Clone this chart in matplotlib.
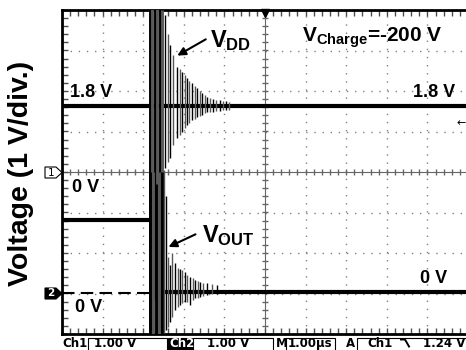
import numpy as np
import matplotlib
matplotlib.use('Agg')
import matplotlib.pyplot as plt
from matplotlib.lines import Line2D
from matplotlib.patches import Rectangle, Polygon

plt.rcParams['font.family'] = ['Liberation Sans', 'DejaVu Sans']
plt.rcParams['mathtext.fontset'] = 'custom'
plt.rcParams['mathtext.rm'] = 'Liberation Sans'
plt.rcParams['mathtext.bf'] = 'Liberation Sans:bold'
plt.rcParams['mathtext.it'] = 'Liberation Sans:italic'

# scope screen: 10 div x 8 div, 1 us/div, 1 V/div -> all values in divisions
t_event = -2.83
vdd_level = 1.62
vout_before = -1.18
vout_after = -2.97
ch2_ground = -2.99
trig_level = 1.21

# ringing: time, upper and lower excursion
vdd_t = [-2.83, -2.78, -2.71, -2.66, -2.59, -2.53, -2.46, -2.40, -2.34, -2.27, -2.17,
         -2.10, -2.04, -1.97, -1.92, -1.86, -1.80, -1.73, -1.67, -1.61, -1.55,
         -1.49, -1.43, -1.36, -1.28, -1.20, -1.11, -1.03, -0.96, -0.88]
vdd_hi = [4.3, 4.3, 4.3, 4.3, 4.3, 4.0, 3.88, 3.40, 3.14, 2.89, 2.59,
          2.55, 2.47, 2.40, 2.32, 2.25, 2.20, 2.12, 2.07, 2.00, 1.95,
          1.90, 1.85, 1.83, 1.80, 1.79, 1.78, 1.76, 1.75, 1.74]
vdd_lo = [-4.3, -4.3, -3.16, -4.3, -4.3, -1.93, 0.10, 0.25, 0.35, 0.67, 0.84,
          0.92, 0.99, 1.08, 1.16, 1.22, 1.28, 1.32, 1.36, 1.39, 1.41,
          1.45, 1.48, 1.48, 1.48, 1.50, 1.51, 1.52, 1.53, 1.54]

vout_t = [-2.83, -2.76, -2.68, -2.61, -2.54, -2.49, -2.44, -2.39, -2.34, -2.29,
          -2.22, -2.14, -2.09, -2.04, -1.98, -1.92, -1.85, -1.78, -1.72, -1.66,
          -1.60, -1.52, -1.43, -1.30, -1.18]
vout_hi = [0.0, 0.0, -0.3, 0.0, 0.0, 0.05, -0.60, -2.10, -2.30, -2.00,
           -2.25, -2.37, -2.40, -2.42, -2.48, -2.54, -2.59, -2.62, -2.67, -2.70,
           -2.72, -2.73, -2.74, -2.77, -2.79]
vout_lo = [-4.3, -4.3, -4.3, -4.3, -4.3, -3.98, -3.90, -3.83, -3.70, -3.58,
           -3.41, -3.33, -3.28, -3.23, -3.22, -3.21, -3.28, -3.15, -3.11, -3.10,
           -3.09, -3.06, -3.04, -3.02, -3.01]

status_items = ['Ch1', '1.00 V', 'Ch2', '1.00 V', 'M', '1.00\u00b5s', 'A', 'Ch1', '1.24 V']

W, H = 466, 350


def fx(px):
    return px / W


def fy(py):
    return 1 - py / H


def spike_style(hi, lo):
    # saturated spikes heavier; alternate black / grey like the persistence display
    widths = [2.1 if (h >= 4 or l <= -4) else 1.0 for h, l in zip(hi, lo)]
    colors = ['k' if i % 2 == 0 else '0.35' for i in range(len(hi))]
    return widths, colors


fig = plt.figure(figsize=(W / 100, H / 100), dpi=100)
ax = fig.add_axes([fx(62), fy(334), 406 / W, 324 / H])
ax.set_xlim(-5, 5)
ax.set_ylim(-4, 4)
ax.set_xticks([])
ax.set_yticks([])
for s in ax.spines.values():
    s.set_linewidth(2)
    s.set_color('k')

# graticule
for x in range(-4, 5):
    if x != 0:
        ax.plot([x, x], [-4, 4], color='0.5', lw=1, ls=(0, (1, 4.85)), zorder=1)
for y in range(-3, 4):
    if y != 0:
        ax.plot([-5, 5], [y, y], color='0.5', lw=1, ls=(0, (1, 4.85)), zorder=1)
ax.axhline(0, color='0.4', lw=0.8, zorder=1)
ax.axvline(0, color='0.4', lw=0.8, zorder=1)
minor_x = np.arange(-5, 5.01, 0.2)
minor_y = np.arange(-4, 4.01, 0.2)
ax.plot(minor_x, np.zeros_like(minor_x), ls='none', marker='|', ms=5, color='0.4', zorder=1)
ax.plot(np.zeros_like(minor_y), minor_y, ls='none', marker='_', ms=5, color='0.4', zorder=1)
ax.plot(minor_x, np.full_like(minor_x, 4), ls='none', marker=3, ms=4, color='0.3', clip_on=False)
ax.plot(minor_x, np.full_like(minor_x, -4), ls='none', marker=2, ms=4, color='0.3', clip_on=False)
ax.plot(np.full_like(minor_y, -5), minor_y, ls='none', marker=1, ms=4, color='0.3', clip_on=False)

# Ch2 ground reference (dashed)
ax.plot([-5, t_event], [ch2_ground, ch2_ground], color='k', lw=1.5, ls=(0, (6, 3)), zorder=2)

# VDD trace
ax.plot([-5, 5], [vdd_level, vdd_level], color='k', lw=3, zorder=3)
w, c = spike_style(vdd_hi, vdd_lo)
ax.vlines(vdd_t, vdd_lo, vdd_hi, colors=c, linewidths=w, zorder=3)

# VOUT trace
ax.plot([-5, t_event], [vout_before, vout_before], color='k', lw=3, zorder=3)
ax.plot([vout_t[5], 5], [vout_after, vout_after], color='k', lw=3, zorder=3)
w, c = spike_style(vout_hi, vout_lo)
ax.vlines(vout_t, vout_lo, vout_hi, colors=c, linewidths=w, zorder=3)

# trigger markers
ax.plot(0, 3.92, marker='v', ms=6, color='k', clip_on=False, zorder=5)
ax.text(4.82, trig_level, '\u2190', fontsize=8, family='DejaVu Sans',
        ha='center', va='center', zorder=5)

# annotations
ax.text(-1.355, 3.09, r'$\mathbf{V_{DD}}$', fontsize=17, va='baseline', zorder=6)
ax.annotate('', xy=(-2.22, 2.84), xytext=(-1.40, 3.31),
            arrowprops=dict(arrowstyle='-|>', lw=1.5, color='k', mutation_scale=12), zorder=6)
ax.text(-1.55, -1.73, r'$\mathbf{V_{OUT}}$', fontsize=17, va='baseline', zorder=6)
ax.annotate('', xy=(-2.44, -1.88), xytext=(-1.65, -1.51),
            arrowprops=dict(arrowstyle='-|>', lw=1.5, color='k', mutation_scale=12), zorder=6)
ax.text(0.91, 3.21, r'$\mathbf{V_{Charge}}$=-200 V', fontsize=15, fontweight='bold',
        va='baseline', zorder=6)
ax.text(-4.80, 1.85, '1.8 V', fontsize=13, fontweight='bold', va='baseline', zorder=6)
ax.text(3.65, 1.85, '1.8 V', fontsize=13, fontweight='bold', va='baseline', zorder=6)
ax.text(-4.75, -0.49, '0 V', fontsize=13, fontweight='bold', va='baseline', zorder=6)
ax.text(3.82, -2.74, '0 V', fontsize=13, fontweight='bold', va='baseline', zorder=6)
ax.text(-4.68, -3.46, '0 V', fontsize=13, fontweight='bold', va='baseline', zorder=6)

# y label
fig.text(fx(21), fy(173), 'Voltage (1 V/div.)', rotation=90, fontsize=20.5,
         fontweight='bold', ha='center', va='center')

# channel markers on the left edge
p1 = [(45, 167), (56, 167), (62, 172.5), (56, 178), (45, 178)]
fig.add_artist(Polygon([(fx(a), fy(b)) for a, b in p1], closed=True, facecolor='white',
                       edgecolor='k', lw=0.8, transform=fig.transFigure))
fig.text(fx(51), fy(172.5), '1', fontsize=7.5, family='DejaVu Sans', ha='center', va='center')
p2 = [(45, 288), (56, 288), (62, 293.5), (56, 299), (45, 299)]
fig.add_artist(Polygon([(fx(a), fy(b)) for a, b in p2], closed=True, facecolor='k',
                       edgecolor='k', lw=0.8, transform=fig.transFigure))
fig.text(fx(51), fy(293.5), '2', fontsize=7.5, family='DejaVu Sans', fontweight='bold',
         color='white', ha='center', va='center')

# status bar
sb = dict(fontsize=8.5, family='DejaVu Sans', fontweight='bold', va='center')
yb = fy(343.5)
for x0, x1 in [(88, 167), (193, 273), (286, 335), (357, 470)]:
    fig.add_artist(Rectangle((fx(x0), fy(351)), fx(x1) - fx(x0), fy(337.5) - fy(351),
                             facecolor='none', edgecolor='k', lw=0.8, transform=fig.transFigure))
fig.add_artist(Rectangle((fx(168), fy(351)), fx(192) - fx(168), fy(337.5) - fy(351),
                         facecolor='k', edgecolor='k', lw=0.8, transform=fig.transFigure))
fig.text(fx(62), yb, status_items[0], **sb)
fig.text(fx(94), yb, status_items[1], **sb)
fig.text(fx(169), yb, status_items[2], color='white', **sb)
fig.text(fx(207), yb, status_items[3], **sb)
fig.text(fx(276), yb, status_items[4], **sb)
fig.text(fx(288), yb, status_items[5], **sb)
fig.text(fx(346), yb, status_items[6], **sb)
fig.text(fx(367), yb, status_items[7], **sb)
fig.text(fx(423), yb, status_items[8], **sb)
# falling-slope icon
fig.add_artist(Line2D([fx(401), fx(405), fx(409)], [fy(339.5), fy(339.5), fy(346.5)],
                      color='k', lw=1.4, transform=fig.transFigure))

fig.savefig('out.png', dpi=100)
